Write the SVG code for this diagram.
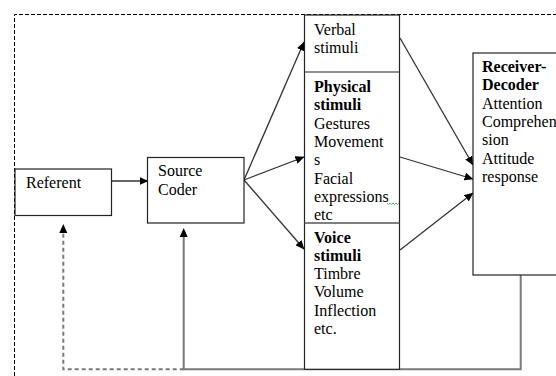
<svg xmlns="http://www.w3.org/2000/svg" width="556" height="376" viewBox="0 0 556 376">
<defs>
<marker id="ah" markerWidth="9" markerHeight="8" refX="8.5" refY="4" orient="auto" markerUnits="userSpaceOnUse">
<path d="M0,0 L9,4 L0,8 Z" fill="#000"/>
</marker>
</defs>
<style>
.box{fill:#fff;stroke:#222;stroke-width:1.2}
.t{font-family:"Liberation Serif","Times New Roman",serif;font-size:16px;fill:#000}
.b{font-weight:bold}
.ar{stroke:#333;stroke-width:1.3;fill:none;marker-end:url(#ah)}
.fb{stroke:#7a7a7a;stroke-width:2;fill:none}
.fbd{stroke:#7a7a7a;stroke-width:2;fill:none;stroke-dasharray:4 3}
.outer{stroke:#000;stroke-width:1;fill:none;stroke-dasharray:4 2}
</style>
<rect width="556" height="376" fill="#fff"/>
<g id="frame">
<path class="outer" d="M14.5,376 L14.5,14.5 L556,14.5"/>
</g>
<g id="connectors">
<line class="ar" x1="111.5" y1="181" x2="148" y2="181"/>
<line class="ar" x1="244" y1="180" x2="304" y2="42"/>
<line class="ar" x1="244" y1="180" x2="304" y2="157"/>
<line class="ar" x1="244" y1="180" x2="304" y2="249"/>
<line class="ar" x1="400" y1="38" x2="473" y2="165"/>
<line class="ar" x1="400" y1="157" x2="473" y2="179"/>
<line class="ar" x1="400" y1="250" x2="473" y2="193"/>
<path class="fb" d="M520.7,275 L520.7,369.3 L183.7,369.3 L183.7,236"/>
<path d="M183.7,228 L179.7,237 L187.7,237 Z" fill="#000"/>
<path class="fbd" d="M183.7,369.3 L63.3,369.3 L63.3,232"/>
<path d="M63.3,224 L59.3,233 L67.3,233 Z" fill="#000"/>
</g>
<g id="referent">
<rect class="box" x="15" y="169" width="96.5" height="46.5"/>
<text class="t" x="26" y="188">Referent</text>
</g>
<g id="source-coder">
<rect class="box" x="147.5" y="157.5" width="96.5" height="65.5"/>
<text class="t" x="158" y="176">Source</text>
<text class="t" x="158" y="194.5">Coder</text>
</g>
<g id="stimuli">
<rect class="box" x="304.5" y="15" width="95" height="354.3"/>
<line x1="304.5" y1="72" x2="399.5" y2="72" stroke="#222" stroke-width="1.2"/>
<line x1="304.5" y1="223" x2="399.5" y2="223" stroke="#555" stroke-width="1.5"/>
</g>
<g id="verbal-stimuli">
<text class="t" x="314" y="34.5">Verbal</text>
<text class="t" x="314" y="52.8">stimuli</text>
</g>
<g id="physical-stimuli">
<text class="t b" x="314" y="92">Physical</text>
<text class="t b" x="314" y="110.3">stimuli</text>
<text class="t" x="314" y="128.6">Gestures</text>
<text class="t" x="314" y="146.9">Movement</text>
<text class="t" x="314" y="165.2">s</text>
<text class="t" x="314" y="183.5">Facial</text>
<text class="t" x="314" y="201.8">expressions</text>
<text class="t" x="314" y="220.1">etc</text>
<polyline points="387,203 388.5,204.5 390,203 391.5,204.5 393,203 394.5,204.5 396,203 397.5,204.5 399,203" fill="none" stroke="#3a9a3a" stroke-width="0.8"/>
</g>
<g id="voice-stimuli">
<text class="t b" x="314" y="242.5">Voice</text>
<text class="t b" x="314" y="260.8">stimuli</text>
<text class="t" x="314" y="279.1">Timbre</text>
<text class="t" x="314" y="297.4">Volume</text>
<text class="t" x="314" y="315.7">Inflection</text>
<text class="t" x="314" y="334">etc.</text>
</g>
<g id="receiver-decoder">
<rect class="box" x="473" y="53" width="120" height="222"/>
<text class="t b" x="482" y="72">Receiver-</text>
<text class="t b" x="482" y="90.3">Decoder</text>
<text class="t" x="482" y="108.6">Attention</text>
<text class="t" x="482" y="126.9">Comprehen</text>
<text class="t" x="482" y="145.2">sion</text>
<text class="t" x="482" y="163.5">Attitude</text>
<text class="t" x="482" y="181.8">response</text>
</g>
</svg>
